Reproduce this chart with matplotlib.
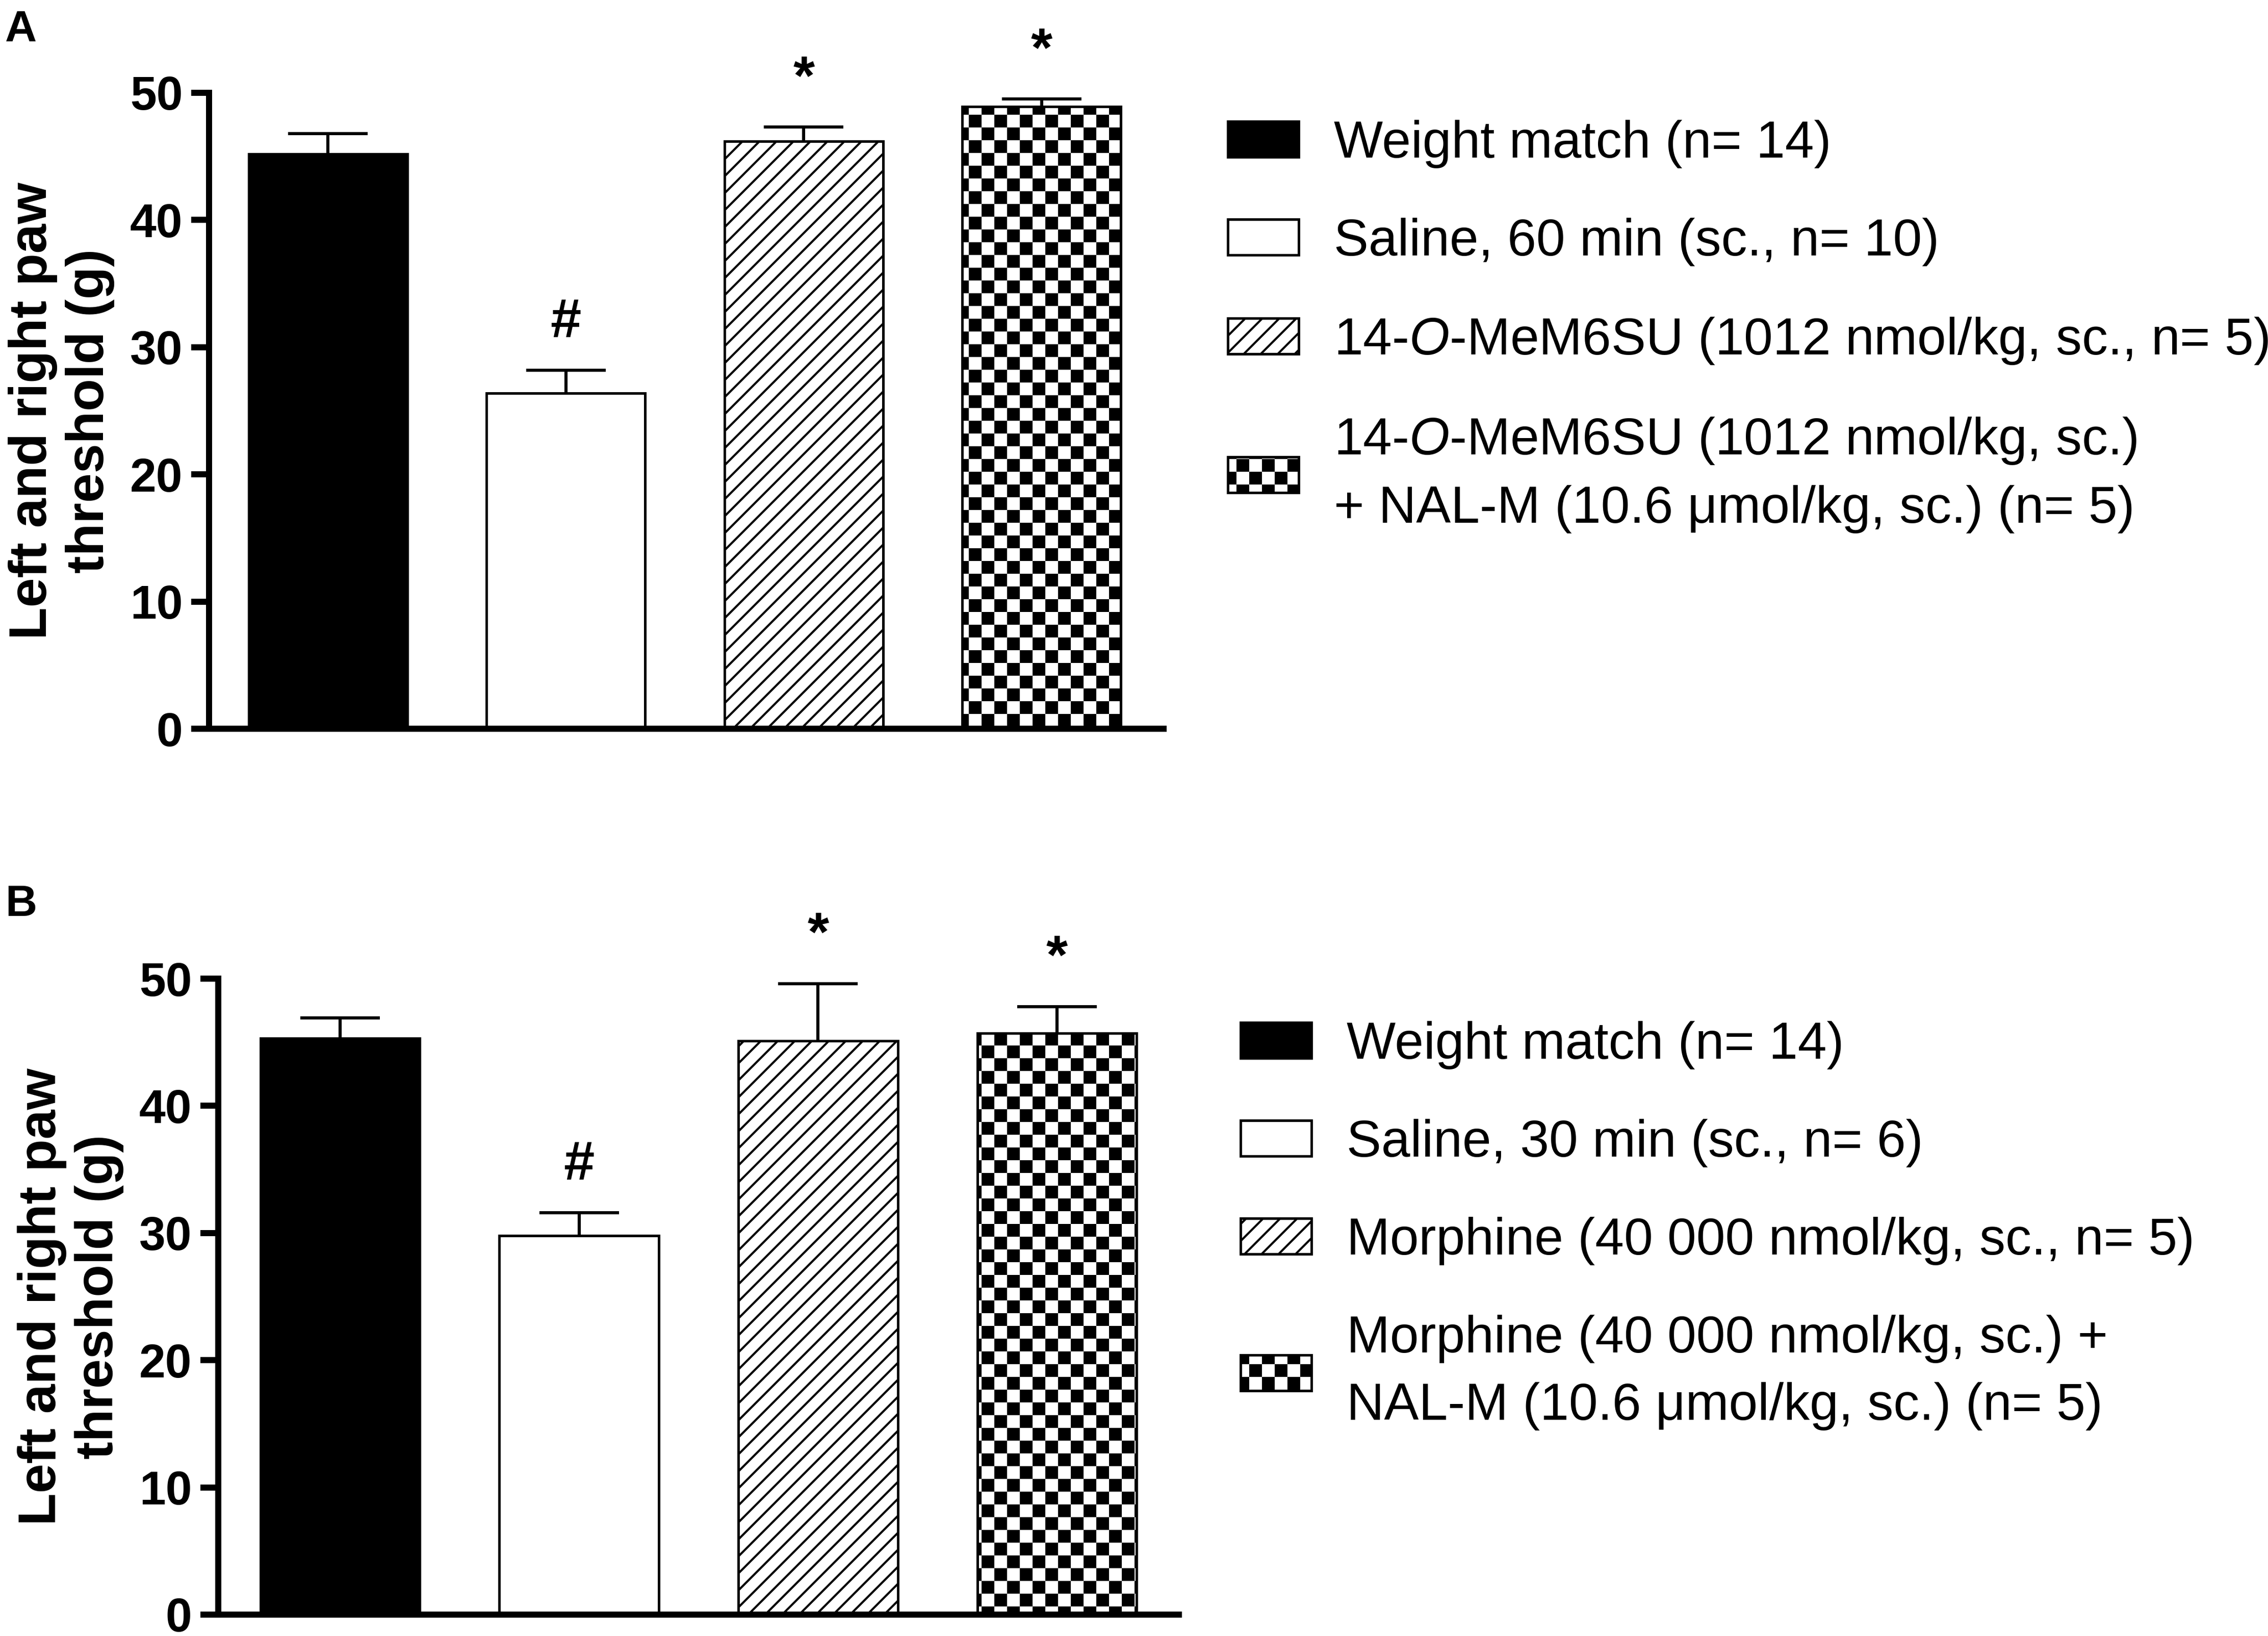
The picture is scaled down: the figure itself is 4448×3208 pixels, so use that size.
import warnings
import numpy as np
import matplotlib
matplotlib.use("Agg")
import matplotlib.pyplot as plt
import matplotlib.hatch as mhatch
from matplotlib.path import Path

warnings.filterwarnings("ignore")

# =========================
# Data
# =========================
a_mean = [45.2, 26.4, 46.2, 48.9]
a_sem = [1.6, 1.8, 1.1, 0.6]
a_marks = ["", "#", "*", "*"]
a_labels = [
    "Weight match (n= 14)",
    "Saline, 60 min (sc., n= 10)",
    "14-$\\mathit{O}$-MeM6SU (1012 nmol/kg, sc., n= 5)",
    "14-$\\mathit{O}$-MeM6SU (1012 nmol/kg, sc.)\n+ NAL-M (10.6 \u03bcmol/kg, sc.) (n= 5)",
]

b_mean = [45.3, 29.8, 45.1, 45.7]
b_sem = [1.6, 1.8, 4.5, 2.1]
b_marks = ["", "#", "*", "*"]
b_labels = [
    "Weight match (n= 14)",
    "Saline, 30 min (sc., n= 6)",
    "Morphine (40 000 nmol/kg, sc., n= 5)",
    "Morphine (40 000 nmol/kg, sc.) +\nNAL-M (10.6 \u03bcmol/kg, sc.) (n= 5)",
]

yticks = [0, 10, 20, 30, 40, 50]
ylabel = "Left and right paw\nthreshold (g)"

# bar styles
faces = ["black", "white", "white", "white"]
hatches = [None, None, "//", "c"]

# =========================
# Style
# =========================
DPI = 200
W, H = 4448, 3208
plt.rcParams["font.family"] = ["Liberation Sans", "DejaVu Sans"]
plt.rcParams["mathtext.fontset"] = "custom"
plt.rcParams["mathtext.rm"] = "Liberation Sans"
plt.rcParams["mathtext.it"] = "Liberation Sans:italic"
plt.rcParams["hatch.linewidth"] = 1.5
plt.rcParams["hatch.color"] = "black"

INSET = (1.5 * DPI / 72.0) / 2.0 / DPI  # compensate hatch stroke


# checkerboard hatch ("c"): 8x8 cells per hatch unit
class CheckerHatch(mhatch.HatchPatternBase):
    def __init__(self, hatch, density):
        self.n = 8 if "c" in hatch else 0
        self.cells = [(i, j) for i in range(self.n) for j in range(self.n)
                      if (i + j) % 2 == 0]
        self.num_vertices = len(self.cells) * 5

    def set_vertices_and_codes(self, vertices, codes):
        s = 1.0 / self.n
        d = INSET
        for k, (i, j) in enumerate(self.cells):
            x0, y0 = i * s + d, j * s + d
            x1, y1 = (i + 1) * s - d, (j + 1) * s - d
            vertices[5 * k:5 * k + 5] = [(x0, y0), (x1, y0), (x1, y1), (x0, y1), (x0, y0)]
            codes[5 * k:5 * k + 5] = [Path.MOVETO, Path.LINETO, Path.LINETO,
                                      Path.LINETO, Path.CLOSEPOLY]


mhatch._hatch_types.append(CheckerHatch)

fig = plt.figure(figsize=(W / DPI, H / DPI), dpi=DPI)


def px(x, y):
    return x / W, 1 - y / H


# =========================
# Panel drawing
# =========================
def draw_panel(rect, xlim, means, sems, marks, labels, legend_xy, letter, letter_xy):
    ax = fig.add_axes(rect)
    x = np.arange(len(means))
    bars = ax.bar(x, means, width=0.667, color=faces, edgecolor="black",
                  linewidth=1.8, zorder=2)
    for r, h in zip(bars, hatches):
        if h:
            r.set_hatch(h)

    eb = ax.errorbar(x, means, yerr=[np.zeros(len(sems)), sems], fmt="none",
                     ecolor="black", elinewidth=2.2, capsize=28, capthick=2.2,
                     zorder=3)
    eb.lines[1][0].set_visible(False)  # one-sided error bars

    for xi, m, s, mk in zip(x, means, sems, marks):
        if mk:
            ax.text(xi, m + s + 2.6, mk, ha="center", va="baseline",
                    fontsize=39, fontweight="bold", clip_on=False)

    ax.set_xlim(*xlim)
    ax.set_ylim(0, 50)
    ax.set_yticks(yticks)
    ax.set_xticks([])
    ax.tick_params(axis="y", length=12.6, width=4.3, pad=6, labelsize=33.5)
    for lab in ax.get_yticklabels():
        lab.set_fontweight("bold")
    for side in ["top", "right"]:
        ax.spines[side].set_visible(False)
    for side in ["left", "bottom"]:
        ax.spines[side].set_linewidth(4.3)
        ax.spines[side].set_capstyle("projecting")

    pos = ax.get_position()
    fig.text(pos.x0 - 289 / W, (pos.y0 + pos.y1) / 2, ylabel, rotation=90,
             ha="center", va="center", multialignment="center",
             fontsize=37.5, fontweight="bold")

    leg = ax.legend(list(bars), labels, loc="upper left",
                    bbox_to_anchor=px(*legend_xy), bbox_transform=fig.transFigure,
                    frameon=False, fontsize=36.7, borderpad=0, borderaxespad=0,
                    handlelength=1.36, handleheight=0.68, handletextpad=0.68,
                    labelspacing=0.95)
    for t in leg.get_texts():
        t.set_linespacing(1.5)

    fig.text(*px(*letter_xy), letter, ha="left", va="baseline",
             fontsize=31, fontweight="bold")
    return ax


draw_panel([410 / W, 1 - 1429 / H, 1872 / W, 1247 / H], (-0.5, 3.513),
           a_mean, a_sem, a_marks, a_labels, (2408, 235), "A", (10, 81))
draw_panel([428 / W, 1 - 3166 / H, 1884 / W, 1247 / H], (-0.51, 3.51),
           b_mean, b_sem, b_marks, b_labels, (2433, 2002), "B", (10, 1796))

fig.savefig("out.png", dpi=DPI, facecolor="white")
